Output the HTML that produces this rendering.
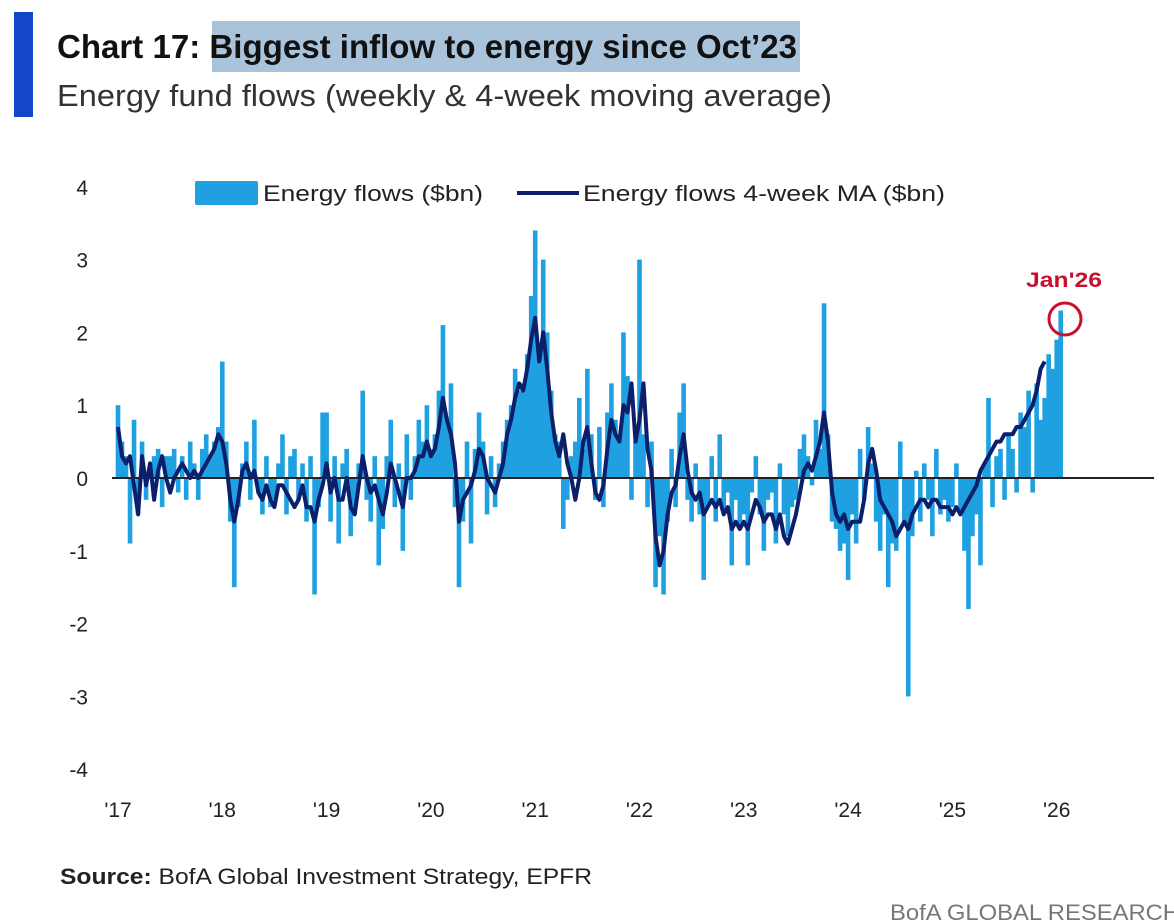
<!DOCTYPE html>
<html><head><meta charset="utf-8"><style>
html,body{margin:0;padding:0;background:#fff;}
svg{display:block;font-family:"Liberation Sans Narrow","Liberation Sans",sans-serif;}
</style></head><body>
<svg id="chart" width="1174" height="924" viewBox="0 0 1174 924">
  <rect x="14" y="12" width="19" height="105" fill="#1446c8"/>
  <rect x="212" y="21" width="588" height="51" fill="#a9c3db"/>
  <text x="57" y="58" font-size="33" font-weight="bold" fill="#111" textLength="740" lengthAdjust="spacingAndGlyphs">Chart 17: Biggest inflow to energy since Oct’23</text>
  <text x="57" y="106" font-size="31" fill="#333" textLength="775" lengthAdjust="spacingAndGlyphs">Energy fund flows (weekly &amp; 4-week moving average)</text>
  <g id="yaxis"></g>
  <g id="xaxis"></g>
  <g id="bars"></g>
  <line x1="112" y1="478" x2="1154" y2="478" stroke="#222" stroke-width="2"/>
  <path id="maline" fill="none" stroke="#0b1f6b" stroke-width="4" stroke-linejoin="round"/>
  <g>
    <rect x="195" y="181" width="63" height="24" rx="2" fill="#1fa0e0"/>
    <text x="263" y="201" font-size="22" fill="#222" textLength="220" lengthAdjust="spacingAndGlyphs">Energy flows ($bn)</text>
    <line x1="517" y1="193" x2="579" y2="193" stroke="#0b1f6b" stroke-width="4"/>
    <text x="583" y="201" font-size="22" fill="#222" textLength="362" lengthAdjust="spacingAndGlyphs">Energy flows 4-week MA ($bn)</text>
  </g>
  <text x="1064" y="287" font-size="21" font-weight="bold" fill="#c8102e" text-anchor="middle" textLength="76" lengthAdjust="spacingAndGlyphs">Jan'26</text>
  <circle cx="1065" cy="319" r="16" fill="none" stroke="#c8102e" stroke-width="3"/>
  <text x="60" y="884" font-size="22" fill="#222" textLength="532" lengthAdjust="spacingAndGlyphs"><tspan font-weight="bold">Source:</tspan> BofA Global Investment Strategy, EPFR</text>
  <text x="890" y="920" font-size="22" fill="#777" textLength="290" lengthAdjust="spacingAndGlyphs">BofA GLOBAL RESEARCH</text>
</svg>
<script>
const yTicks = [4,3,2,1,0,-1,-2,-3,-4];
const xTickLabels = ["'17","'18","'19","'20","'21","'22","'23","'24","'25","'26"];
const flows = [
1.0,0.5,0.3,-0.9,0.8,-0.5,0.5,-0.3,0.2,0.3,0.4,-0.4,0.3,0.3,0.4,-0.2,0.3,-0.3,0.5,0.2,-0.3,0.4,0.6,0.3,0.5,0.7,
1.6,0.5,-0.6,-1.5,-0.4,0.2,0.5,-0.3,0.8,-0.2,-0.5,0.3,-0.4,-0.3,0.2,0.6,-0.5,0.3,0.4,-0.3,0.2,-0.6,0.3,-1.6,-0.4,0.9,
0.9,-0.6,0.3,-0.9,0.2,0.4,-0.8,-0.5,0.2,1.2,-0.3,-0.6,0.3,-1.2,-0.7,0.3,0.8,-0.4,0.2,-1.0,0.6,-0.3,0.3,0.8,0.5,1.0,
0.4,0.6,1.2,2.1,0.8,1.3,-0.4,-1.5,-0.6,0.5,-0.9,0.4,0.9,0.5,-0.5,0.3,-0.4,0.2,0.5,0.8,1.0,1.5,1.2,1.3,1.7,2.5,
3.4,1.8,3.0,2.0,1.2,0.6,0.5,-0.7,-0.3,0.3,0.5,1.1,0.4,1.5,0.6,-0.3,0.7,-0.4,0.9,1.3,0.8,0.6,2.0,1.4,-0.3,0.5,
3.0,0.6,-0.4,0.5,-1.5,-0.8,-1.6,-0.6,0.4,-0.4,0.9,1.3,-0.3,-0.6,0.2,-0.5,-1.4,-0.4,0.3,-0.6,0.6,-0.5,-0.2,-1.2,-0.3,-0.7,
-0.5,-1.2,-0.2,0.3,-0.5,-1.0,-0.3,-0.2,-0.9,0.2,-0.5,-0.8,-0.4,-0.3,0.4,0.6,0.3,-0.1,0.8,0.4,2.4,0.6,-0.6,-0.7,-1.0,-0.9,
-1.4,-0.5,-0.9,0.4,-0.3,0.7,0.2,-0.6,-1.0,-0.5,-1.5,-0.9,-1.0,0.5,-0.6,-3.0,-0.8,0.1,-0.6,0.2,-0.3,-0.8,0.4,-0.5,-0.3,-0.6,
-0.4,0.2,-0.5,-1.0,-1.8,-0.8,-0.5,-1.2,0.2,1.1,-0.4,0.3,0.4,-0.3,0.6,0.4,-0.2,0.9,0.7,1.2,-0.2,1.3,0.8,1.1,1.7,1.5,
1.9,2.3
];
const ma = [
0.7,0.3,0.2,0.3,-0.1,-0.5,0.3,-0.1,0.2,-0.3,0.1,0.3,0,-0.2,0,0.1,0.2,0.1,0,0.1,0,0.1,0.2,0.3,0.4,0.6,
0.5,0.2,-0.3,-0.6,-0.3,0.1,0.2,0,0.1,-0.2,-0.3,-0.1,-0.3,-0.4,-0.1,-0.1,-0.2,-0.3,-0.4,-0.3,-0.1,-0.4,-0.4,-0.6,-0.3,-0.1,
0.2,-0.2,0,-0.3,-0.3,0,-0.4,-0.5,-0.1,0.3,0,-0.2,-0.1,-0.3,-0.5,-0.2,0.2,0,-0.2,-0.4,0,0,0.1,0.3,0.3,0.5,
0.3,0.4,0.7,1.1,0.8,0.6,0.2,-0.6,-0.3,-0.2,-0.1,0.1,0.4,0.3,0,-0.1,-0.2,0,0.2,0.6,0.8,1.1,1.3,1.2,1.5,1.9,
2.2,1.6,2.0,1.5,0.9,0.5,0.3,0.6,0.2,0,-0.3,0,0.5,0.7,0.2,-0.2,-0.3,-0.1,0.4,0.8,0.6,0.5,1.0,0.9,1.3,0.5,
0.8,1.3,0.4,0.1,-0.8,-1.2,-1.0,-0.5,-0.2,-0.1,0.3,0.6,0.1,-0.2,-0.3,-0.2,-0.5,-0.4,-0.3,-0.4,-0.3,-0.5,-0.4,-0.7,-0.6,-0.7,
-0.6,-0.7,-0.5,-0.3,-0.4,-0.6,-0.5,-0.5,-0.7,-0.5,-0.8,-0.9,-0.7,-0.5,-0.2,0.1,0.2,0.1,0.3,0.5,0.9,0.5,-0.2,-0.5,-0.6,-0.5,
-0.7,-0.6,-0.6,-0.6,-0.3,0.2,0.4,0.1,-0.3,-0.4,-0.5,-0.6,-0.8,-0.7,-0.6,-0.7,-0.5,-0.4,-0.3,-0.3,-0.4,-0.3,-0.3,-0.4,-0.4,-0.4,
-0.5,-0.4,-0.5,-0.4,-0.3,-0.2,-0.1,0.1,0.2,0.3,0.4,0.5,0.5,0.6,0.6,0.6,0.7,0.7,0.8,0.9,1.0,1.2,1.5,
1.6
];
const NS='http://www.w3.org/2000/svg';
const X0=118, PXY=104.3, Y0=478, PXU=72.8, PER=26;
function xs(t){return X0+PXY*t;}
function ys(v){return Y0-PXU*v;}
const yg=document.getElementById('yaxis');
yTicks.forEach(v=>{
  const t=document.createElementNS(NS,'text');
  t.setAttribute('x',88);t.setAttribute('y',ys(v)+8);
  t.setAttribute('text-anchor','end');t.setAttribute('font-size','21');t.setAttribute('fill','#222');
  
  
  t.textContent=v;yg.appendChild(t);
});
const xg=document.getElementById('xaxis');
xTickLabels.forEach((l,i)=>{
  const t=document.createElementNS(NS,'text');
  t.setAttribute('x',xs(i));t.setAttribute('y',817);
  t.setAttribute('text-anchor','middle');t.setAttribute('font-size','21');t.setAttribute('fill','#222');
  
  
  t.textContent=l;xg.appendChild(t);
});
const bg=document.getElementById('bars');
flows.forEach((v,i)=>{
  const x=xs(i/PER);
  const r=document.createElementNS(NS,'rect');
  const y1=ys(Math.max(v,0)), y2=ys(Math.min(v,0));
  r.setAttribute('x',x-2.3);r.setAttribute('width',4.6);
  r.setAttribute('y',y1);r.setAttribute('height',Math.max(y2-y1,0.5));
  r.setAttribute('fill','#1fa0e0');
  
  
  bg.appendChild(r);
});
let d='';
ma.forEach((v,i)=>{d+=(i?'L':'M')+xs(i/PER).toFixed(1)+','+ys(v).toFixed(1);});
document.getElementById('maline').setAttribute('d',d);
</script>
</body></html>
